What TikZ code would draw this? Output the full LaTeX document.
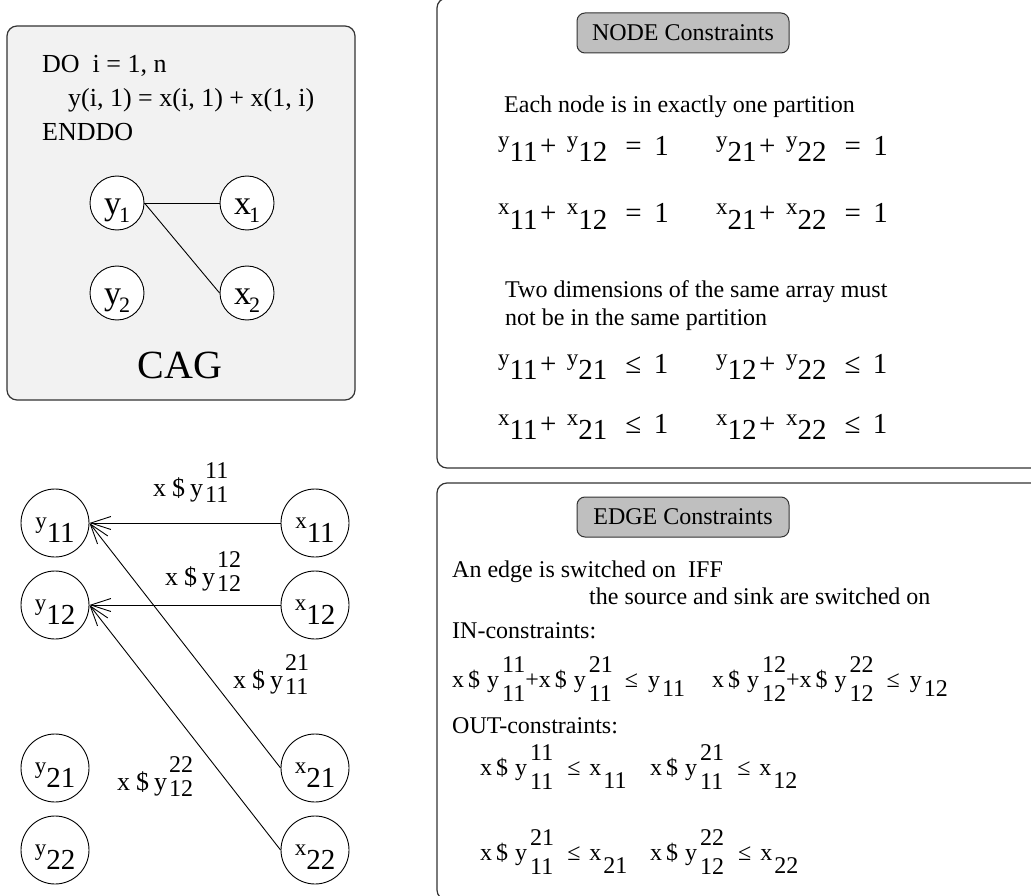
\documentclass[tikz,border=0pt]{standalone}
\usepackage{fontspec}
\setmainfont{Liberation Serif}
\usetikzlibrary{arrows.meta}
\newcommand\fs[1]{\fontsize{#1}{#1}\selectfont}
% small raised letter, big lowered digits
\newcommand\V[2]{\raisebox{8pt}{\fs{23}#1}\raisebox{-6pt}{\fs{29}#2}}
% letter on baseline, lowered digits: #1 letter, #2 digits, #3 lowering
\newcommand\U[3]{{\fs{24}#1}\hspace{2pt}\raisebox{-#3}{\fs{24}#2}}
% big letter, small subscript (CAG)
\newcommand\W[2]{{\fs{34}#1}\hspace{-2pt}\raisebox{-8pt}{\fs{22}#2}}
% x $ y with stacked scripts (edge panel)
\newcommand\XY[2]{x\hspace{4pt}\$\hspace{7pt}y\hspace{3pt}\rlap{\raisebox{15pt}{\fs{24}#1}}\raisebox{-14pt}{\fs{24}#2}}
% x $ y with stacked scripts (graph labels)
\newcommand\XG[2]{{\fs{26}x\hspace{6pt}\$\hspace{5pt}y}\hspace{2pt}\rlap{\raisebox{18pt}{\fs{24}#1}}\raisebox{-6pt}{\fs{24}#2}}
\newcommand\Row[5]{{\fs{29}\V{#1}{#2}\hspace{2.5pt}+\hspace{10.5pt}\V{#1}{#3}\hspace{18pt}#4\hspace{12.5pt}#5}}
\tikzset{
  panelbox/.style={draw=black!80, line width=1.2pt, rounded corners=10pt},
  cagbox/.style={draw=black!80, line width=1.2pt, rounded corners=10pt, fill=gray!10},
  hdrbox/.style={draw=black!80, line width=1pt, rounded corners=8pt, fill=gray!50,
    minimum width=212pt, minimum height=40pt},
  cagnode/.style={circle, draw, line width=0.9pt, fill=white, minimum size=54pt,
    text height=32pt, text depth=8pt},
  gnode/.style={circle, draw, line width=0.9pt, fill=white, minimum size=68pt,
    text height=32pt, text depth=6pt},
  txt/.style={anchor=base west},
  arr/.style={-{Straight Barb[length=20pt,width=13pt]}, line width=0.9pt},
  plain/.style={line width=0.9pt}
}
\begin{document}
\begin{tikzpicture}[x=1pt,y=-1pt, every node/.style={inner sep=0pt, font=\fs{24}}]
\useasboundingbox (0,0) rectangle (1031,896);
\begin{scope}
\clip (0,0) rectangle (1031,896);
\draw[panelbox] (437,-2) rectangle (1050,468);
\draw[panelbox] (437,483) rectangle (1050,900);
\end{scope}
\draw[cagbox] (7,26) rectangle (355,400);

% CAG box
\node[txt, font=\fs{26}] (do) at (42,73) {DO\ \ i = 1, n};
\node[txt, font=\fs{26}] (asg) at (68,107) {y(i, 1) = x(i, 1) + x(1, i)};
\node[txt, font=\fs{26}] (enddo) at (42,141) {ENDDO};
\node[anchor=base, font=\fs{40}] (cag) at (180,378) {CAG};
\node[cagnode] (y1) at (117,203) {\W{y}{1}};
\node[cagnode] (x1) at (247,203) {\W{x}{1}};
\node[cagnode] (y2) at (117,293) {\W{y}{2}};
\node[cagnode] (x2) at (247,293) {\W{x}{2}};
\draw[plain] (y1.east) -- (x1.west);
\draw[plain] (y1.east) -- (x2.west);

% graph
\node[gnode] (y11) at (55,523) {\V{y}{11}};
\node[gnode] (y12) at (55,605) {\V{y}{12}};
\node[gnode] (y21) at (55,768) {\V{y}{21}};
\node[gnode] (y22) at (55,850) {\V{y}{22}};
\node[gnode] (x11) at (315,523) {\V{x}{11}};
\node[gnode] (x12) at (315,605) {\V{x}{12}};
\node[gnode] (x21) at (315,768) {\V{x}{21}};
\node[gnode] (x22) at (315,850) {\V{x}{22}};
\draw[arr] (x11.west) -- (y11.east);
\draw[arr] (x12.west) -- (y12.east);
\draw[arr] (x21.west) -- (y11.east);
\draw[arr] (x22.west) -- (y12.east);
\node[txt] (l1) at (153,496) {\XG{11}{11}};
\node[txt] (l2) at (165,585) {\XG{12}{12}};
\node[txt] (l3) at (233,688) {\XG{21}{11}};
\node[txt] (l4) at (117,790) {\XG{22}{12}};

% NODE constraints
\node[hdrbox] (nodehdr) at (683,33) {NODE Constraints};
\node[txt] (t1) at (504,113) {Each node is in exactly one partition};
\node[txt] (r1a) at (498,156) {\Row{y}{11}{12}{=}{1}};
\node[txt] (r1b) at (716,156) {\Row{y}{21}{22}{=}{1}};
\node[txt] (r2a) at (498,223) {\Row{x}{11}{12}{=}{1}};
\node[txt] (r2b) at (716,223) {\Row{x}{21}{22}{=}{1}};
\node[txt] (t2) at (505,298) {Two dimensions of the same array must};
\node[txt] (t3) at (505,325) {not be in the same partition};
\node[txt] (r3a) at (498,373) {\Row{y}{11}{21}{≤}{1}};
\node[txt] (r3b) at (716,373) {\Row{y}{12}{22}{≤}{1}};
\node[txt] (r4a) at (498,433) {\Row{x}{11}{21}{≤}{1}};
\node[txt] (r4b) at (716,433) {\Row{x}{12}{22}{≤}{1}};

% EDGE constraints
\node[hdrbox] (edgehdr) at (683,517) {EDGE Constraints};
\node[txt] (e1) at (452,577) {An edge is switched on\ \ IFF};
\node[txt] (e2) at (589,604) {the source and sink are switched on};
\node[txt] (e3) at (452,638) {IN-constraints:};
\node[txt] (ina) at (452,687) {\XY{11}{11}+\XY{21}{11}\hspace{13pt}≤\hspace{10pt}\U{y}{11}{9pt}};
\node[txt] (inb) at (712,687) {\XY{12}{12}+\XY{22}{12}\hspace{13pt}≤\hspace{10pt}\U{y}{12}{9pt}};
\node[txt] (e4) at (452,733) {OUT-constraints:};
\node[txt] (o1) at (480,775) {\XY{11}{11}\hspace{14pt}≤\hspace{9pt}\U{x}{11}{13pt}};
\node[txt] (o2) at (650,775) {\XY{21}{11}\hspace{14pt}≤\hspace{9pt}\U{x}{12}{13pt}};
\node[txt] (o3) at (480,860) {\XY{21}{11}\hspace{14pt}≤\hspace{9pt}\U{x}{21}{13pt}};
\node[txt] (o4) at (650,860) {\XY{22}{12}\hspace{14pt}≤\hspace{9pt}\U{x}{22}{13pt}};
\end{tikzpicture}
\end{document}
